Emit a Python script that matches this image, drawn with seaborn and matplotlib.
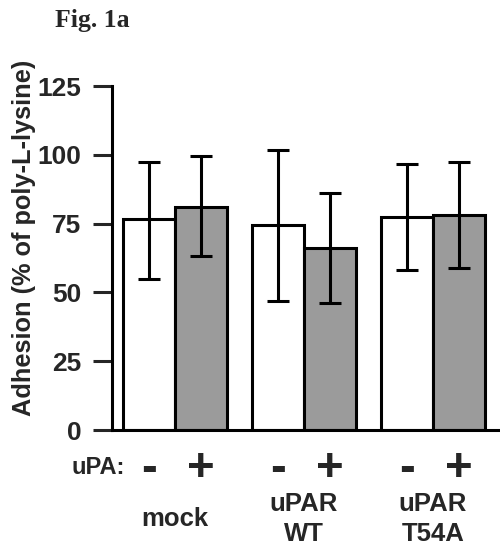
import matplotlib
matplotlib.use("Agg")
import matplotlib.pyplot as plt
import seaborn as sns
import pandas as pd
import numpy as np
from matplotlib.transforms import blended_transform_factory

# ---- data ----
groups = ["mock", "uPAR\nWT", "uPAR\nT54A"]
upa_levels = ["-", "+"]
means_minus = [76.7, 74.5, 77.4]
means_plus = [81.0, 66.1, 78.1]
low_minus = [54.9, 46.9, 58.1]
high_minus = [97.4, 101.7, 96.7]
low_plus = [63.2, 46.1, 58.9]
high_plus = [99.5, 86.1, 97.4]
yticks = [0, 25, 50, 75, 100, 125]

sns.set_style("white")
plt.rcParams["font.family"] = ["Liberation Sans", "DejaVu Sans"]

df = pd.DataFrame({
    "group": groups * 2,
    "uPA": ["-"] * 3 + ["+"] * 3,
    "value": means_minus + means_plus,
    "low": low_minus + low_plus,
    "high": high_minus + high_plus,
})

fig = plt.figure(figsize=(5, 5.47), dpi=100)
ax = fig.add_axes([0.224, 1 - 430 / 547, 1 - 0.224, 344 / 547])

sns.barplot(data=df, x="group", y="value", hue="uPA", order=groups,
            hue_order=upa_levels, palette=["white", "#9b9b9b"],
            edgecolor="black", linewidth=2.2, errorbar=None, width=0.8,
            saturation=1, legend=False, ax=ax)

trans = blended_transform_factory(ax.transData, ax.transAxes)
# error bars at bar centres
for cont, lvl in zip(ax.containers, upa_levels):
    bars = sorted(cont.patches, key=lambda p: p.get_x())
    sub = df[df["uPA"] == lvl].set_index("group").loc[groups]
    xs = [b.get_x() + b.get_width() / 2 for b in bars]
    m = sub["value"].values
    yerr = [m - sub["low"].values, sub["high"].values - m]
    ax.errorbar(xs, m, yerr=yerr, fmt="none", ecolor="black",
                elinewidth=2.2, capsize=8, capthick=2.2, zorder=5)
    for x in xs:
        ax.text(x, -0.148, lvl, transform=trans, ha="center", va="baseline",
                fontsize=34, fontweight="bold")

fig.text(125 / 500, 1 - 474 / 547, "uPA:", ha="right", va="baseline",
         fontsize=17, fontweight="bold")

ax.set_ylim(0, 125)
ax.set_xlim(-0.488, 2.52)
ax.set_yticks(yticks)
ax.set_yticklabels([str(t) for t in yticks], fontsize=19, fontweight="bold")
ax.set_xticks(range(len(groups)))
ax.set_xticklabels(groups, fontsize=18.5, fontweight="bold", va="center",
                   linespacing=1.3)
ax.tick_params(axis="x", length=0, pad=64)
ax.tick_params(axis="y", direction="out", length=14, width=2.2, pad=8,
               left=True)
ax.set_xlabel("")
ax.set_ylabel("Adhesion (% of poly-L-lysine)", fontsize=18.3, fontweight="bold")
ax.yaxis.set_label_coords(-0.196, 0.558)
for s in ["top", "right"]:
    ax.spines[s].set_visible(False)
for s in ["left", "bottom"]:
    ax.spines[s].set_linewidth(2.2)
    ax.spines[s].set_color("black")

fig.text(55 / 500, 1 - 27 / 547, "Fig. 1a", ha="left", va="baseline",
         fontsize=18.5, fontweight="bold", family=["Liberation Serif"])

fig.savefig("out.png", dpi=100)
